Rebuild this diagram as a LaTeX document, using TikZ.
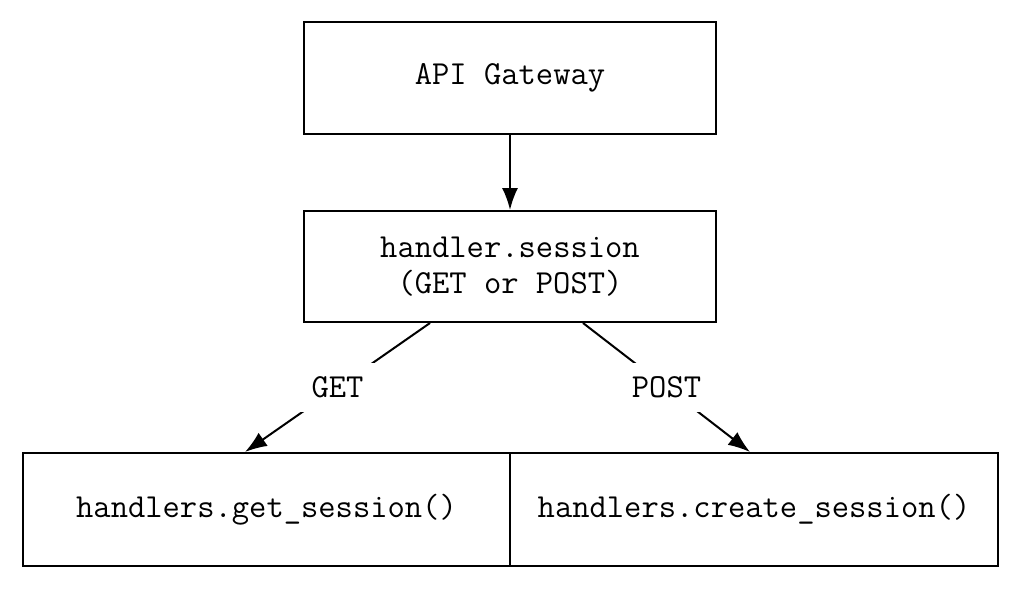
\documentclass[tikz,border=0pt]{standalone}
\usepackage{fontspec}
\usetikzlibrary{arrows.meta}

\begin{document}
\begin{tikzpicture}[>={Latex[length=11pt,width=8pt]}, x=0.5pt, y=-0.5pt, line width=1pt,
	every node/.style={inner sep=0pt, font=\fontsize{16.8}{18}\selectfont\ttfamily}]
	\useasboundingbox (0,0) rectangle (1020,589);
	%Gateway
	\node [rectangle, minimum width=206pt, minimum height=56pt, draw] (gateway) at (510,78) {API Gateway};
	%Session handler
	\node [rectangle, minimum width=206pt, minimum height=55.5pt, align=center, draw] (session) at (510,266.5) {handler.session\\(GET or POST)};
	\draw[->] (gateway) -- (session);
	%Handlers
	\node [rectangle, minimum width=243.5pt, minimum height=56.5pt, draw] (getsess) at (266.5,509.5) {handlers.get\_session()};
	\node [rectangle, minimum width=244pt, minimum height=56.5pt, draw] (createsess) at (754,509.5) {handlers.create\_session()};
	%Methods
	\draw[->] ([xshift=-40pt]session.south) -- node [fill=white, inner sep=7pt] {GET} ([xshift=-10.75pt]getsess.north);
	\draw[->] ([xshift=36.5pt]session.south) -- node [fill=white, inner sep=7pt] {POST} ([xshift=-2pt]createsess.north);
\end{tikzpicture}
\end{document}
